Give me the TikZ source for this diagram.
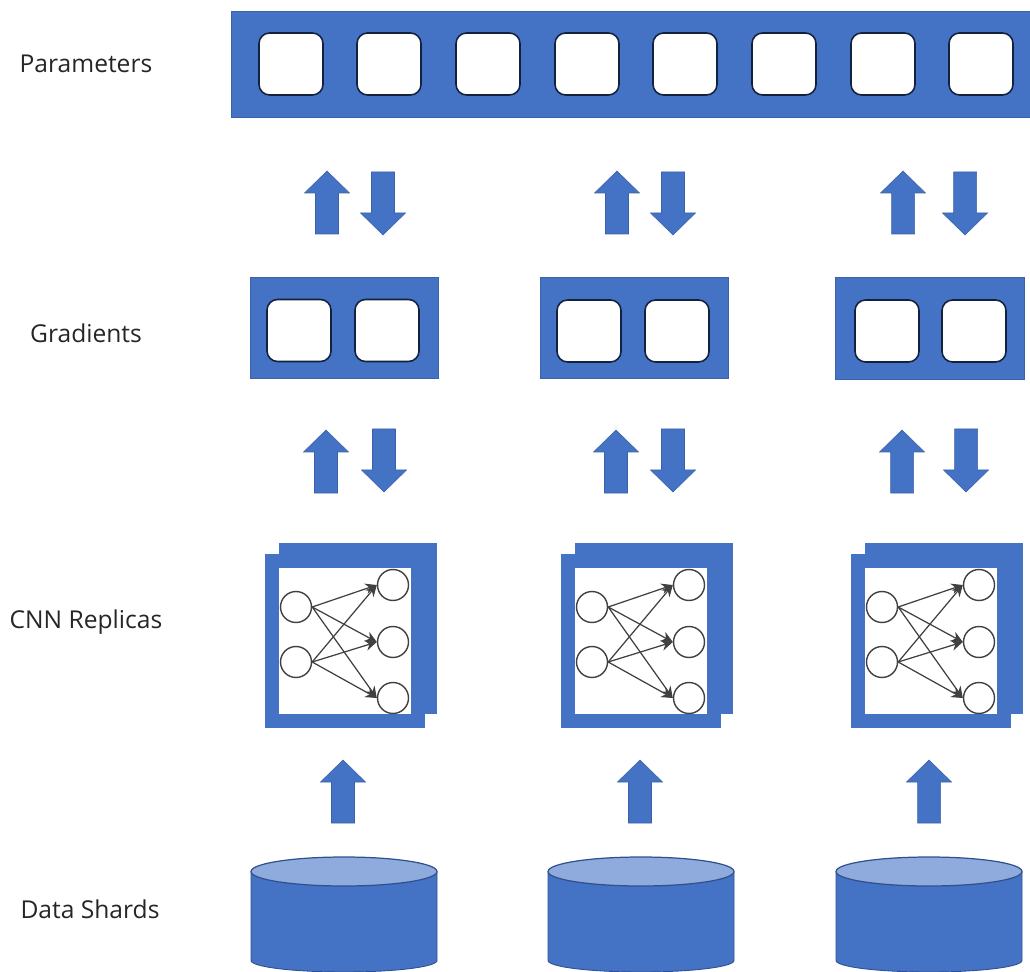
\documentclass[tikz,border=0pt]{standalone}
\usepackage{fontspec}
\setmainfont{Open Sans}
\usetikzlibrary{arrows.meta}

\def\px{.02cm}
\definecolor{blockblue}{HTML}{4472C4}
\definecolor{blockedge}{HTML}{3A63AC}
\definecolor{shardedge}{HTML}{2F528F}
\definecolor{toplight}{HTML}{8FAADC}
\definecolor{celledge}{HTML}{14213D}

\tikzset{
  rowlabel/.style={font=\fontsize{14pt}{17pt}\selectfont, text=black!85},
  bar/.style={draw=blockedge, fill=blockblue, line width=.5pt, inner sep=0pt},
  cell/.style={draw=celledge, fill=white, line width=.9pt, rounded corners=6pt,
    minimum width=64*\px, minimum height=62*\px, inner sep=0pt},
  sheet/.style={fill=blockblue, inner sep=0pt},
  frame/.style={draw=blockblue, fill=white, line width=14*\px, inner sep=0pt},
  neuron/.style={circle, draw=black!75, fill=white, line width=.8pt,
    minimum size=31*\px, inner sep=0pt},
  link/.style={draw=black!75, line width=.7pt, -{Stealth[length=6.5pt,width=6pt]}},
  blockarrow/.style={fill=blockblue, draw=blockblue!85!black, line width=.3pt},
  uparr/.pic={
    \path[blockarrow] (0,0) -- (22.5,22) -- (11.5,22) -- (11.5,63) -- (-11.5,63)
      -- (-11.5,22) -- (-22.5,22) -- cycle;
  },
  downarr/.pic={
    \path[blockarrow] (0,0) -- (-22.5,-22) -- (-11.5,-22) -- (-11.5,-63) -- (11.5,-63)
      -- (11.5,-22) -- (22.5,-22) -- cycle;
  },
  shard/.pic={
    \path[fill=blockblue, draw=shardedge, line width=.5pt] (-93,0) -- (-93,89)
      arc [start angle=180, end angle=0, x radius=93, y radius=11.5] -- (93,0);
    \path[fill=toplight, draw=shardedge, line width=.7pt] (0,0)
      ellipse [x radius=93, y radius=14.5];
  }
}

\begin{document}
\begin{tikzpicture}[x=.02cm, y=-.02cm]
  \useasboundingbox (0,0) rectangle (1030,972);

  % labels
  \node[rowlabel] (lparams) at (86,64) {Parameters};
  \node[rowlabel] (lgrads) at (86,333) {Gradients};
  \node[rowlabel] (lcnn) at (86,622) {CNN Replicas};
  \node[rowlabel] (lshards) at (90,909) {Data Shards};

  % parameters
  \node[bar, minimum width=799*\px, minimum height=106*\px] (params) at (630.5,64) {};
  \foreach \x [count=\i] in {291,389,488,587,685,784,883,981}
    \node[cell] (p\i) at (\x,64) {};

  % gradients
  \node[bar, minimum width=188*\px, minimum height=101*\px] (grad1) at (344,327.5) {};
  \node[cell] (g11) at (299,330.5) {};
  \node[cell] (g12) at (387,330.5) {};
  \node[bar, minimum width=188*\px, minimum height=101*\px] (grad2) at (634,327.5) {};
  \node[cell] (g21) at (589,331) {};
  \node[cell] (g22) at (677,331) {};
  \node[bar, minimum width=189*\px, minimum height=102*\px] (grad3) at (929.5,328) {};
  \node[cell] (g31) at (887,331) {};
  \node[cell] (g32) at (974,331) {};

  % arrows
  \pic at (327,171) {uparr};
  \pic at (383,235) {downarr};
  \pic at (617,171) {uparr};
  \pic at (673,235) {downarr};
  \pic at (903,171) {uparr};
  \pic at (965,235) {downarr};

  \pic at (326,430) {uparr};
  \pic at (384,492) {downarr};
  \pic at (616,430) {uparr};
  \pic at (673,492) {downarr};
  \pic at (902,430) {uparr};
  \pic at (966,492) {downarr};

  \pic at (343,760) {uparr};
  \pic at (640,760) {uparr};
  \pic at (929,760) {uparr};

  % replicas
  \foreach \c/\dx in {1/0,2/296,3/586} {
    \node[sheet, minimum width=158*\px, minimum height=171*\px] (back\c) at (358+\dx,628.5) {};
    \node[frame, minimum width=145.5*\px, minimum height=160.5*\px] (front\c) at (344.75+\dx,640.75) {};
    \node[neuron] (in\c1) at (296+\dx,607) {};
    \node[neuron] (in\c2) at (296+\dx,662) {};
    \node[neuron] (out\c1) at (393+\dx,585) {};
    \node[neuron] (out\c2) at (393+\dx,642) {};
    \node[neuron] (out\c3) at (393+\dx,698) {};
    \foreach \a in {1,2}
      \foreach \b in {1,2,3}
        \draw[link] (in\c\a.east) -- (out\c\b.west);
  }

  % shards
  \pic at (344,871.5) {shard};
  \pic at (641,871.5) {shard};
  \pic at (929,871.5) {shard};
\end{tikzpicture}
\end{document}
